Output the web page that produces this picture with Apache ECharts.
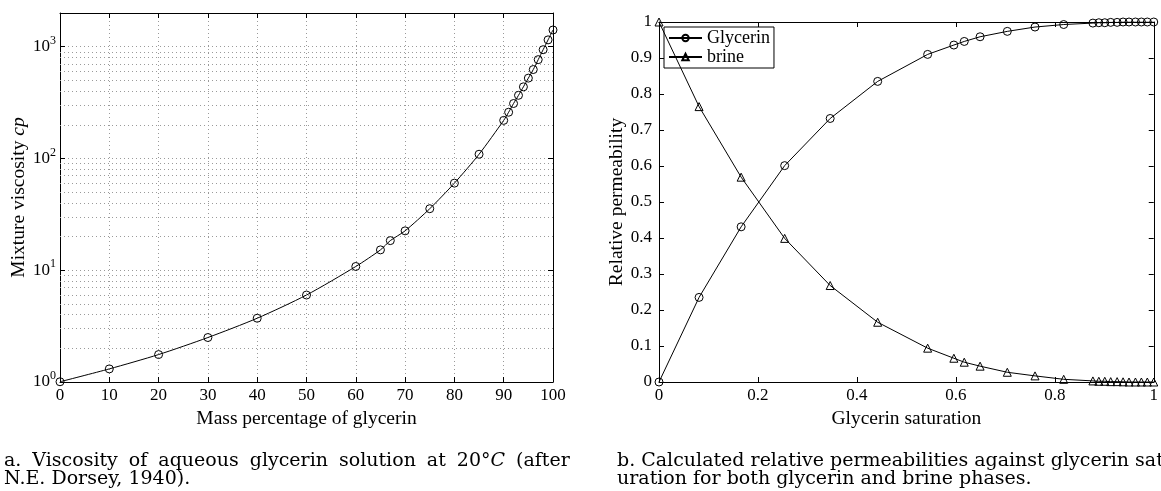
<!DOCTYPE html>
<html>
<head>
<meta charset="utf-8">
<script src="https://cdn.jsdelivr.net/npm/echarts@6/dist/echarts.min.js"></script>
<style>html,body{margin:0;padding:0;background:#fff;}#c{width:1161px;height:491px;}</style>
</head>
<body>
<div id="c"></div>
<script>
// ---- data ----
const massPct = [0,10,20,30,40,50,60,65,67,70,75,80,85,90,91,92,93,94,95,96,97,98,99,100];
const viscosity = [1.005,1.31,1.76,2.50,3.72,6.00,10.8,15.2,18.4,22.5,35.5,60.1,109,219,259,310,367,437,523,624,765,939,1150,1410];
const saturation = [0,0.081,0.166,0.254,0.346,0.442,0.543,0.596,0.617,0.649,0.704,0.760,0.818,0.877,0.889,0.901,0.913,0.926,0.938,0.950,0.963,0.975,0.987,1];
const krGlycerin = [0,0.235,0.431,0.601,0.732,0.835,0.910,0.936,0.946,0.959,0.974,0.986,0.993,0.997,0.998,0.998,0.999,0.999,1,1,1,1,1,1];
const krBrine = [1,0.765,0.569,0.399,0.268,0.166,0.094,0.066,0.055,0.044,0.027,0.017,0.0075,0.003,0.002,0.002,0.001,0.001,0.0005,0,0,0,0,0];
const logMinorLines = [2,3,4,5,6,7,8,9,20,30,40,50,60,70,80,90,200,300,400,500,600,700,800,900];
const captionA = ['a. Viscosity of aqueous glycerin solution at 20°{i|C} (after', 'N.E. Dorsey, 1940).'];
const captionB = ['b. Calculated relative permeabilities against glycerin sat', 'uration for both glycerin and brine phases.'];

const FONT = '"Liberation Serif", "Times New Roman", serif';
const CAPFONT = '"DejaVu Serif", serif';
const black = '#000';
const TICK = 17, NAME = 19.5;
const gridDot = { color: '#9a9a9a', width: 1, type: [1, 3] };

function pair(a, b) { return a.map((v, i) => [v, b[i]]); }

const axisBase = {
  axisLine: { show: true, onZero: false, lineStyle: { color: black, width: 1 } },
  axisTick: { show: true, inside: true, length: 5, lineStyle: { color: black } },
  axisLabel: { color: black, fontFamily: FONT, fontSize: TICK },
  nameTextStyle: { color: black, fontFamily: FONT, fontSize: NAME },
  splitLine: { show: false }
};
function ax(extra) { return Object.assign({}, JSON.parse(JSON.stringify(axisBase)), extra); }

const chart = echarts.init(document.getElementById('c'), null, { renderer: 'canvas' });

const logLabel = function (v) {
  const e = Math.round(Math.log10(v));
  if (Math.abs(Math.pow(10, e) - v) > 1e-6 * v) return '';
  return '{b|10}{s|' + e + '}';
};

// justifyGap: width of each inter-word space for LaTeX-like justified lines (0 = normal)
function captionGraphic(lines, x, y0, justifyGaps) {
  return lines.map((t, i) => {
    const gap = justifyGaps[i] || 0;
    let text = t;
    if (gap) {
      // split outside rich tokens only
      text = t.split(' ').join('{g| }');
    }
    return {
      type: 'text', left: x, top: y0 + i * 18,
      style: {
        text: text, fill: black, font: '19px ' + CAPFONT,
        rich: {
          i: { fontStyle: 'italic', fontFamily: CAPFONT, fontSize: 19 },
          g: { fontFamily: CAPFONT, fontSize: 19, width: gap || 6 }
        }
      }
    };
  });
}

chart.setOption({
  animation: false,
  backgroundColor: '#fff',
  grid: [
    { left: 60, right: 608, top: 13, bottom: 109 },
    { left: 659, right: 3, top: 22, bottom: 109 }
  ],
  legend: {
    data: ['Glycerin', 'brine'],
    orient: 'vertical', left: 664, top: 27,
    itemWidth: 33, itemHeight: 8, itemGap: 1,
    padding: [2, 4, 2, 4],
    borderColor: black, borderWidth: 1, backgroundColor: '#fff',
    textStyle: { color: black, fontFamily: FONT, fontSize: 18 }
  },
  xAxis: [
    ax({ gridIndex: 0, type: 'value', min: 0, max: 100, interval: 10, position: 'bottom',
         name: 'Mass percentage of glycerin', nameLocation: 'middle', nameGap: 18,
         axisLabel: { color: black, fontFamily: FONT, fontSize: TICK, margin: 5 },
         splitLine: { show: true, lineStyle: gridDot } }),
    ax({ gridIndex: 0, type: 'value', min: 0, max: 100, interval: 10, position: 'top',
         axisLabel: { show: false } }),
    ax({ gridIndex: 1, type: 'value', min: 0, max: 1, interval: 0.2, position: 'bottom',
         name: 'Glycerin saturation', nameLocation: 'middle', nameGap: 18,
         axisLabel: { color: black, fontFamily: FONT, fontSize: TICK, margin: 5 } }),
    ax({ gridIndex: 1, type: 'value', min: 0, max: 1, interval: 0.2, position: 'top',
         axisLabel: { show: false } })
  ],
  yAxis: [
    ax({ gridIndex: 0, type: 'log', logBase: 10, min: 1, max: 2000, position: 'left',
         name: 'Mixture viscosity {i|cp}', nameLocation: 'middle', nameGap: 30,
         nameTextStyle: { color: black, fontFamily: FONT, fontSize: NAME,
           rich: { i: { fontStyle: 'italic', fontFamily: FONT, fontSize: NAME } } },
         axisLabel: { color: black, margin: 4, formatter: logLabel,
           rich: { b: { fontFamily: FONT, fontSize: TICK, lineHeight: 24, color: black },
                   s: { fontFamily: FONT, fontSize: 12, lineHeight: 12, verticalAlign: 'top', color: black } } },
         splitLine: { show: true, lineStyle: gridDot } }),
    ax({ gridIndex: 0, type: 'log', logBase: 10, min: 1, max: 2000, position: 'right',
         axisLabel: { show: false } }),
    ax({ gridIndex: 1, type: 'value', min: 0, max: 1, interval: 0.1, position: 'left',
         name: 'Relative permeability', nameLocation: 'middle', nameGap: 32,
         axisLabel: { color: black, fontFamily: FONT, fontSize: TICK, margin: 7 } }),
    ax({ gridIndex: 1, type: 'value', min: 0, max: 1, interval: 0.1, position: 'right',
         axisLabel: { show: false } })
  ],
  series: [
    {
      type: 'line', name: 'viscosity', xAxisIndex: 0, yAxisIndex: 0,
      data: pair(massPct, viscosity), smooth: 0.25,
      symbol: 'circle', symbolSize: 8,
      lineStyle: { color: black, width: 1 },
      itemStyle: { color: 'rgba(0,0,0,0)', borderColor: black, borderWidth: 1 },
      markLine: {
        silent: true, symbol: 'none', label: { show: false },
        lineStyle: gridDot,
        data: logMinorLines.map(v => ({ yAxis: v }))
      },
      z: 5
    },
    {
      type: 'line', name: 'Glycerin', xAxisIndex: 2, yAxisIndex: 2,
      data: pair(saturation, krGlycerin),
      symbol: 'circle', symbolSize: 8,
      lineStyle: { color: black, width: 1 },
      itemStyle: { color: 'rgba(0,0,0,0)', borderColor: black, borderWidth: 1 },
      z: 5
    },
    {
      type: 'line', name: 'brine', xAxisIndex: 2, yAxisIndex: 2,
      data: pair(saturation, krBrine),
      symbol: 'triangle', symbolSize: 8,
      lineStyle: { color: black, width: 1 },
      itemStyle: { color: 'rgba(0,0,0,0)', borderColor: black, borderWidth: 1 },
      z: 5
    }
  ],
  graphic: captionGraphic(captionA, 4, 452, [11, 0]).concat(captionGraphic(captionB, 617, 452, [0, 0]))
});
</script>
</body>
</html>
